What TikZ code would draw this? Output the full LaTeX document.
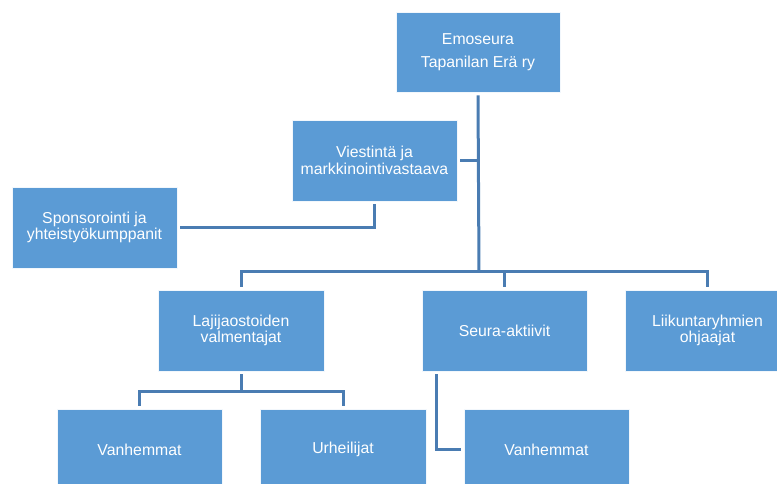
\documentclass[tikz,border=0pt]{standalone}
\usepackage{fontspec}
\setmainfont{Liberation Sans}
\definecolor{boxblue}{HTML}{5B9BD5}
\definecolor{linkblue}{HTML}{4A7CB2}
\begin{document}
\begin{tikzpicture}[x=1pt,y=-1pt,
  orgbox/.style={rectangle, fill=boxblue, draw=white!92!boxblue, line width=0.6pt,
    minimum width=165pt, minimum height=81pt, inner sep=2pt,
    text=white, align=center, font=\fontsize{15.8}{16.5}\selectfont},
  link/.style={draw=linkblue, line width=3pt}]
\useasboundingbox (0,0) rectangle (777,484);
\clip (0,0) rectangle (777,484);

% boxes
\node[orgbox, minimum width=164pt, minimum height=80pt] (emo) at (478,52) {Emoseura\\[6pt]Tapanilan Erä ry};
\node[orgbox] (vie) at (374.5,160.5) {Viestintä ja\\markkinointivastaava};
\node[orgbox] (spo) at (94.5,227.5) {Sponsorointi ja\\yhteistyökumppanit};
\node[orgbox, minimum width=166pt] (laj) at (241,330.5) {Lajijaostoiden\\valmentajat};
\node[orgbox] (seu) at (504.5,330.5) {Seura-aktiivit};
\node[orgbox] (lii) at (707.5,330.5) {Liikuntaryhmien\\ohjaajat};
\node[orgbox] (van1) at (139.5,449.5) {Vanhemmat};
\node[orgbox, minimum width=166pt] (urh) at (343,449.5) {Urheilijat};
\node[orgbox] (van2) at (546.5,449.5) {Vanhemmat};

% connector junctions
\coordinate (bus) at (479,271);
\coordinate (bus2) at (241,391);

% connectors
\draw[link] ([yshift=-3pt]emo.south) -- (bus);
\draw[link] ([xshift=3pt]vie.east) -- (bus |- vie.east);
\draw[link] ([yshift=-3pt]vie.south) |- ([xshift=3pt]spo.east);
\draw[link] ([yshift=3pt]laj.north) |- (bus) -| ([yshift=3pt]lii.north);
\draw[link] ([yshift=3pt]seu.north) -- (seu.north |- bus);
\draw[link] ([yshift=-3pt]laj.south) -- (bus2);
\draw[link] ([yshift=3pt]van1.north) |- (bus2) -| ([yshift=3pt]urh.north);
\draw[link] ([xshift=15pt,yshift=-3pt]seu.south west) |- ([xshift=-3pt]van2.west);
\end{tikzpicture}
\end{document}
